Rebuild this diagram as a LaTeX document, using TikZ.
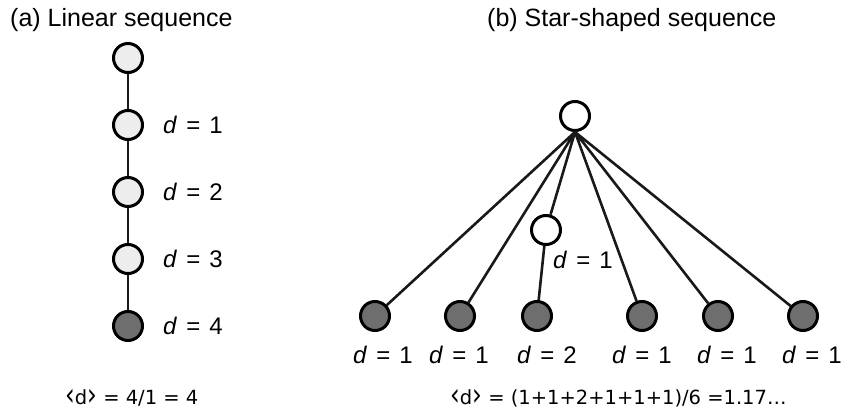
\documentclass[tikz,border=0pt]{standalone}
\usepackage{fontspec}
\setmainfont{Liberation Sans}
\newfontfamily\frmfont{DejaVu Sans}
\newcommand{\lab}{\raisebox{-0.5pt}{\scalebox{1.25}[1.6]{‹}}}
\newcommand{\rab}{\raisebox{-0.5pt}{\scalebox{1.25}[1.6]{›}}}
\newcommand{\dq}[1]{\textit{d}\hspace{0.38em}=\hspace{0.38em}#1}
\begin{document}
\begin{tikzpicture}[x=1pt,y=-1pt,
  nd/.style={circle,draw=black,line width=3pt,minimum size=29pt,inner sep=0pt},
  light/.style={nd,fill=black!7},
  dark/.style={nd,fill=black!57},
  wht/.style={nd,fill=white},
  edge/.style={line width=2.6pt,draw=black!90},
  lbl/.style={inner sep=0pt,font=\fontsize{24}{28}\selectfont},
  ttl/.style={inner sep=0pt,font=\fontsize{25}{28}\selectfont,anchor=west},
  frm/.style={inner sep=0pt,font=\frmfont\fontsize{19.5}{24}\selectfont}]
\useasboundingbox (0,0) rectangle (846,414);
% titles
\node[ttl] (ta) at (10,20) {(a) Linear sequence};
\node[ttl] (tb) at (487,20) {(b) Star-shaped sequence};
% linear
\node[light] (a0) at (128,58) {};
\node[light] (a1) at (128,125) {};
\node[light] (a2) at (128,192) {};
\node[light] (a3) at (128,259) {};
\node[dark]  (a4) at (128,326) {};
\draw[edge] (a0) -- (a1) (a1) -- (a2) (a2) -- (a3) (a3) -- (a4);
\node[lbl,anchor=west] (la1) at (163,125) {\dq{1}};
\node[lbl,anchor=west] (la2) at (163,192) {\dq{2}};
\node[lbl,anchor=west] (la3) at (163,259) {\dq{3}};
\node[lbl,anchor=west] (la4) at (163,326) {\dq{4}};
\node[frm,anchor=west] (fa) at (65,398) {\lab d\rab{} = 4/1 = 4};
% star
\node[wht] (s0) at (575,116) {};
\node[wht] (sm) at (546,230) {};
\node[dark] (b1) at (375,316) {};
\node[dark] (b2) at (460,316) {};
\node[dark] (b3) at (537,316) {};
\node[dark] (b4) at (642,316) {};
\node[dark] (b5) at (718,316) {};
\node[dark] (b6) at (803,316) {};
\draw[edge] (s0.south) -- (b1) (s0.south) -- (b2) (s0.south) -- (sm)
  (sm) -- (b3) (s0.south) -- (b4) (s0.south) -- (b5) (s0.south) -- (b6);
\node[lbl,anchor=west] (lm) at (553,260) {\dq{1}};
\node[lbl] (l1) at (383,355) {\dq{1}};
\node[lbl] (l2) at (459,355) {\dq{1}};
\node[lbl] (l3) at (547,355) {\dq{2}};
\node[lbl] (l4) at (642,355) {\dq{1}};
\node[lbl] (l5) at (727,355) {\dq{1}};
\node[lbl] (l6) at (812,355) {\dq{1}};
\node[frm,anchor=west] (fb) at (450,398) {\lab d\rab{} = (1+1+2+1+1+1)/6 =1.17…};
\end{tikzpicture}
\end{document}
